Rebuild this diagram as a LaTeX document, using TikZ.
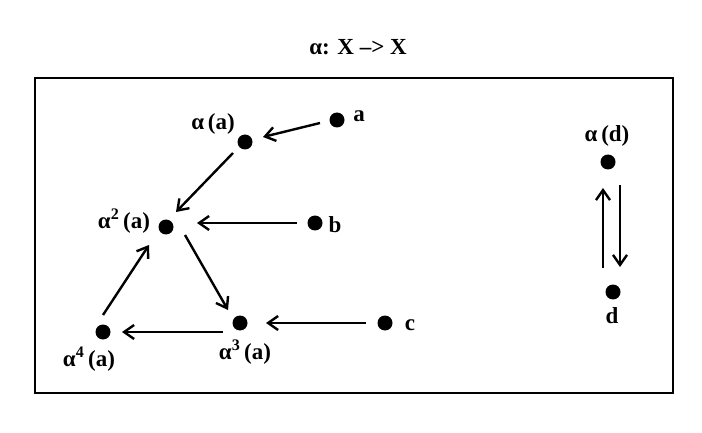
\documentclass[tikz,border=0pt]{standalone}
\usepackage{fontspec}
\setmainfont{Liberation Serif}
\usetikzlibrary{arrows.meta}
\begin{document}
\begin{tikzpicture}[x=1pt,y=-1pt,
  dot/.style={circle,fill=black,inner sep=0pt,minimum size=15pt},
  lbl/.style={font=\fontsize{23}{27}\selectfont\bfseries,inner sep=0pt},
  arr/.style={line width=2.4pt,-{Straight Barb[length=10pt,width=14pt,line width=2.4pt]}}]
\useasboundingbox (0,0) rectangle (702,433);
\node[lbl] (title) at (358,47) {α: X –> X};
\draw[line width=2.6pt] (35,78) rectangle (673,393);
% dots
\node[dot] (a)  at (337,120) {};
\node[dot] (aa) at (245,142) {};
\node[dot] (a2) at (166,227) {};
\node[dot] (b)  at (315,223) {};
\node[dot] (a3) at (240,323) {};
\node[dot] (c)  at (385,323) {};
\node[dot] (a4) at (103,332) {};
\node[dot] (ad) at (608,162) {};
\node[dot] (d)  at (613,292) {};
% labels
\node[lbl] (la)  at (359,116) {a};
\node[lbl] (laa) at (213,124) {α\,(a)};
\node[lbl] (la2) at (124,221) {α\textsuperscript{2}\,(a)};
\node[lbl] (lb)  at (335,225) {b};
\node[lbl] (la3) at (245,352) {α\textsuperscript{3}\,(a)};
\node[lbl] (lc)  at (410,325) {c};
\node[lbl] (la4) at (89,359) {α\textsuperscript{4}\,(a)};
\node[lbl] (lad) at (607,136) {α\,(d)};
\node[lbl] (ld)  at (612,316) {d};
% arrows
\draw[arr] ([shift={(-17,3)}]a.center) -- ([shift={(18,-5)}]aa.center);
\draw[arr] ([shift={(-12,11)}]aa.center) -- ([shift={(10,-15)}]a2.center);
\draw[arr] ([shift={(-18,0)}]b.center) -- ([shift={(31,-4)}]a2.center);
\draw[arr] ([shift={(19,8)}]a2.center) -- ([shift={(-12,-13)}]a3.center);
\draw[arr] ([shift={(-19,0)}]c.center) -- ([shift={(26,0)}]a3.center);
\draw[arr] ([shift={(-17,9)}]a3.center) -- ([shift={(19,0)}]a4.center);
\draw[arr] ([shift={(0,-17)}]a4.center) -- ([shift={(-17,18)}]a2.center);
\draw[arr] ([shift={(-10,-24)}]d.center) -- ([shift={(-5,26)}]ad.center);
\draw[arr] ([shift={(12,23)}]ad.center) -- ([shift={(7,-25)}]d.center);
\end{tikzpicture}
\end{document}
